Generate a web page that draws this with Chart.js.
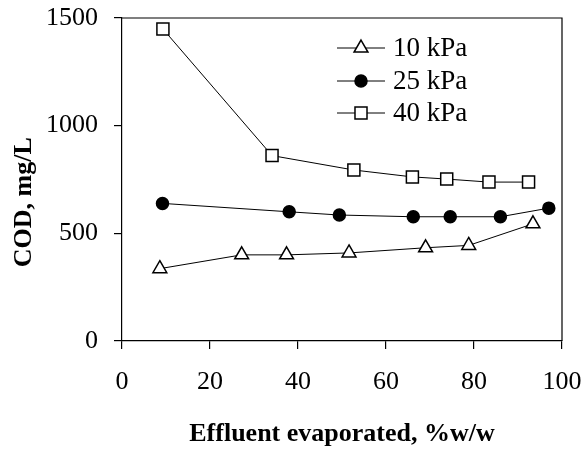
<!DOCTYPE html>
<html>
<head>
<meta charset="utf-8">
<script src="https://cdn.jsdelivr.net/npm/chart.js@4.4.1/dist/chart.umd.min.js"></script>
<style>
html,body{margin:0;padding:0;background:#fff;}
#c{display:block;}
</style>
</head>
<body>
<canvas id="c" width="585" height="453"></canvas>
<script>
// ---- data ----
const seriesNames = ["10 kPa", "25 kPa", "40 kPa"];
const x10 = [8.6, 27.2, 37.4, 51.6, 69.0, 78.8, 93.4];
const y10 = [336, 400, 400, 409, 433, 444, 544];
const x25 = [9.2, 38.0, 49.4, 66.2, 74.6, 86.0, 97.0];
const y25 = [639, 600, 585, 577, 577, 577, 617];
const x40 = [9.3, 34.1, 52.7, 66.0, 73.8, 83.4, 92.4];
const y40 = [1449, 861, 794, 762, 752, 738, 738];
const xTicks = [0, 20, 40, 60, 80, 100];
const yTicks = [0, 500, 1000, 1500];
const xTitle = "Effluent evaporated, %w/w";
const yTitle = "COD, mg/L";

const pts = (xs, ys) => xs.map((x, i) => ({x: x, y: ys[i]}));
const FONT = "'Liberation Serif', 'Times New Roman', serif";

const styles = [
  {pointStyle: 'triangle', radius: 8, bg: '#ffffff'},
  {pointStyle: 'circle', radius: 6, bg: '#000000'},
  {pointStyle: 'rect', radius: 8.5, bg: '#ffffff'}
];
const allData = [pts(x10, y10), pts(x25, y25), pts(x40, y40)];

const datasets = allData.map((d, i) => ({
  label: seriesNames[i],
  data: d,
  borderColor: '#000',
  borderWidth: 1,
  pointStyle: styles[i].pointStyle,
  pointRadius: styles[i].radius,
  pointHoverRadius: styles[i].radius,
  pointBackgroundColor: styles[i].bg,
  pointBorderColor: '#000',
  pointBorderWidth: 1.5,
  showLine: true,
  tension: 0,
  clip: false
}));

const framePlugin = {
  id: 'frame',
  beforeDatasetsDraw(chart) {
    const {ctx, chartArea: a} = chart;
    ctx.save();
    ctx.strokeStyle = '#000';
    ctx.lineWidth = 1.2;
    ctx.beginPath();
    ctx.moveTo(a.left, a.top);
    ctx.lineTo(a.right, a.top);
    ctx.lineTo(a.right, a.bottom);
    ctx.stroke();
    ctx.restore();
  }
};

const legendPlugin = {
  id: 'customLegend',
  afterDatasetsDraw(chart) {
    const ctx = chart.ctx;
    const x0 = 337, x1 = 385, xm = 361, xt = 393;
    const rows = [48, 81, 113];
    ctx.save();
    seriesNames.forEach((name, i) => {
      const y = rows[i];
      ctx.strokeStyle = '#000';
      ctx.lineWidth = 1;
      ctx.beginPath();
      ctx.moveTo(x0, y);
      ctx.lineTo(x1, y);
      ctx.stroke();
      ctx.fillStyle = styles[i].bg;
      ctx.strokeStyle = '#000';
      ctx.lineWidth = 1.5;
      Chart.helpers.drawPoint(ctx, {pointStyle: styles[i].pointStyle, radius: styles[i].radius, rotation: 0, borderWidth: 1.5}, xm, y);
      ctx.fillStyle = '#000';
      ctx.font = "27px " + FONT;
      ctx.textBaseline = 'middle';
      ctx.textAlign = 'left';
      ctx.fillText(name, xt, y + 1);
    });
    ctx.restore();
  }
};

new Chart(document.getElementById('c'), {
  type: 'scatter',
  data: {datasets: datasets},
  plugins: [framePlugin, legendPlugin],
  options: {
    responsive: false,
    animation: false,
    events: [],
    layout: {padding: {left: 0, top: 18, right: 23, bottom: 0}},
    plugins: {legend: {display: false}, tooltip: {enabled: false}},
    scales: {
      x: {
        type: 'linear',
        min: 0, max: 100,
        afterBuildTicks(s) { s.ticks = xTicks.map(v => ({value: v})); },
        afterFit(s) { s.height = 112; s.paddingLeft = 0; s.paddingRight = 0; },
        grid: {drawOnChartArea: false, tickLength: 8, color: '#000', lineWidth: 1.2},
        border: {color: '#000', width: 1.2},
        ticks: {color: '#000', padding: 18, font: {family: FONT, size: 26}, callback: v => String(v)},
        title: {display: true, text: xTitle, color: '#000', padding: {top: 0, bottom: 3}, font: {family: FONT, size: 26, weight: 'bold'}}
      },
      y: {
        type: 'linear',
        min: 0, max: 1500,
        afterBuildTicks(s) { s.ticks = yTicks.map(v => ({value: v})); },
        afterFit(s) { s.width = 122; s.paddingTop = 0; s.paddingBottom = 0; },
        grid: {drawOnChartArea: false, tickLength: 8, color: '#000', lineWidth: 1.2},
        border: {color: '#000', width: 1.2},
        ticks: {color: '#000', padding: 16, font: {family: FONT, size: 26}, callback: v => String(v)},
        title: {display: true, text: yTitle + '\u00A0\u00A0\u00A0\u00A0\u00A0\u00A0\u00A0', color: '#000', padding: {top: 9, bottom: 0}, font: {family: FONT, size: 26, weight: 'bold'}}
      }
    }
  }
});
</script>
</body>
</html>
